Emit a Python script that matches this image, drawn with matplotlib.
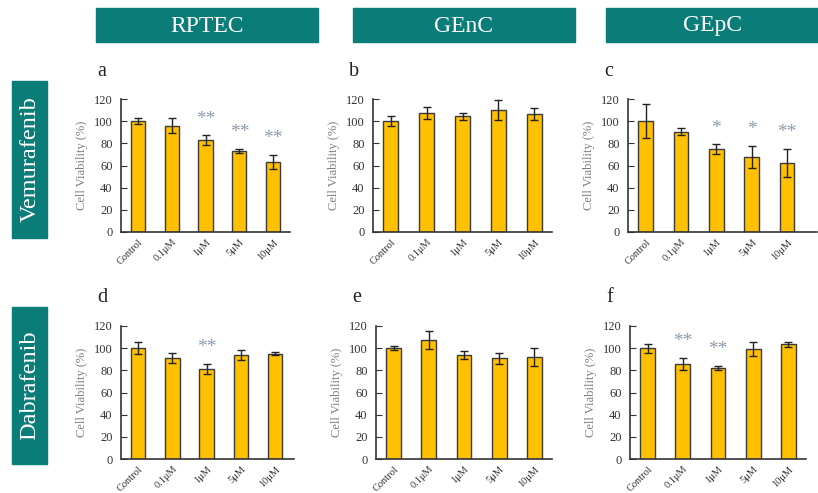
import numpy as np
import matplotlib.pyplot as plt
from matplotlib.patches import Rectangle

plt.rcParams['font.family'] = ['Liberation Serif', 'DejaVu Serif']

# data
doses = ['Control', '0.1μM', '1μM', '5μM', '10μM']
cells = ['RPTEC', 'GEnC', 'GEpC']
drugs = ['Vemurafenib', 'Dabrafenib']
letters = ['a', 'b', 'c', 'd', 'e', 'f']

vem_rptec = [100, 96, 83, 73, 63]
vem_rptec_err = [3, 6.5, 4.2, 2, 6.5]
vem_genc = [100, 107.6, 104.3, 109.7, 106.4]
vem_genc_err = [4.5, 5.4, 3.5, 9, 5.5]
vem_gepc = [100, 90.4, 74.8, 67.5, 62]
vem_gepc_err = [15.4, 3.3, 4.2, 10, 12.7]

dab_rptec = [100, 91, 81.4, 93.8, 95]
dab_rptec_err = [5.7, 4.2, 4.5, 4.2, 1.5]
dab_genc = [100, 107.6, 93.8, 91, 92]
dab_genc_err = [2, 8, 3.5, 5, 8]
dab_gepc = [100, 85.6, 82.3, 99.2, 103.4]
dab_gepc_err = [4.2, 5.6, 2, 6.3, 2]

vem_stars = [['', '', '**', '**', '**'], ['', '', '', '', ''], ['', '', '*', '*', '**']]
dab_stars = [['', '', '**', '', ''], ['', '', '', '', ''], ['', '**', '**', '', '']]

W, H = 818, 493
fig = plt.figure(figsize=(W / 100, H / 100), dpi=100)

teal = '#0b7d78'
bar_col = '#ffc000'
star_col = '#8c9bab'


def px_axes(left, top, right, bottom):
    return fig.add_axes([left / W, 1 - bottom / H, (right - left) / W, (bottom - top) / H])


def box(x0, y0, x1, y1):
    fig.patches.append(Rectangle((x0 / W, 1 - y1 / H), (x1 - x0) / W, (y1 - y0) / H,
                                 transform=fig.transFigure, color=teal, zorder=0))


# column headers
header_x = [(96, 318), (353, 575), (606, 818)]
for (x0, x1), name in zip(header_x, cells):
    box(x0, 8, x1, 42)
    fig.text((x0 + x1) / 2 / W, 1 - 26 / H, name, color='white', fontsize=17,
             ha='center', va='center')

# row labels
row_y = [(81, 238), (307, 464)]
for (y0, y1), name in zip(row_y, drugs):
    box(12, y0, 47, y1)
    fig.text(30 / W, 1 - (y0 + y1) / 2 / H, name, color='white', fontsize=17.5,
             rotation=90, ha='center', va='center')

vals = [vem_rptec, vem_genc, vem_gepc, dab_rptec, dab_genc, dab_gepc]
errs = [vem_rptec_err, vem_genc_err, vem_gepc_err, dab_rptec_err, dab_genc_err, dab_gepc_err]
stars = vem_stars + dab_stars

# axes boxes in pixels: left, top, right, bottom, xmax
boxes = [(121, 99, 290, 232, 4.5), (373, 99, 552, 232, 4.5), (628, 99, 817, 232, 4.85),
         (121, 326, 294, 459, 4.55), (376, 326, 552, 459, 4.5), (630, 326, 806, 459, 4.5)]

x = np.arange(len(doses))
for i in range(6):
    l, t, r, b, xmax = boxes[i]
    ax = px_axes(l, t, r, b)
    ax.bar(x, vals[i], width=0.42, color=bar_col, edgecolor='#3a3a3a', linewidth=1.0,
           yerr=errs[i], error_kw=dict(ecolor='#222222', elinewidth=1.0, capsize=3, capthick=1.0))
    ax.set_xlim(-0.5, xmax)
    ax.set_ylim(0, 120)
    ax.set_yticks(range(0, 121, 20))
    ax.set_xticks(x)
    ax.set_xticklabels(doses, rotation=45, ha='right', rotation_mode='anchor', fontsize=7.5,
                       color='#333333')
    ax.tick_params(axis='x', length=0, pad=4)
    ax.tick_params(axis='y', direction='in', length=4, labelsize=9, colors='#333333', pad=6)
    for s in ['top', 'right']:
        ax.spines[s].set_visible(False)
    for s in ['left', 'bottom']:
        ax.spines[s].set_color('#333333')
        ax.spines[s].set_linewidth(1.2)
    ax.set_ylabel('Cell Viability (%)', color='#7f7f7f', fontsize=9, labelpad=4)
    for j, s in enumerate(stars[i]):
        if s:
            ax.text(x[j], vals[i][j] + errs[i][j] + 7, s, ha='center', va='bottom',
                    color=star_col, fontsize=14)
    fig.text((l - 24) / W, 1 - (t - 28) / H, letters[i], fontsize=14.5, ha='left', va='center',
             color='#222222')

fig.savefig('out.png', dpi=100)
